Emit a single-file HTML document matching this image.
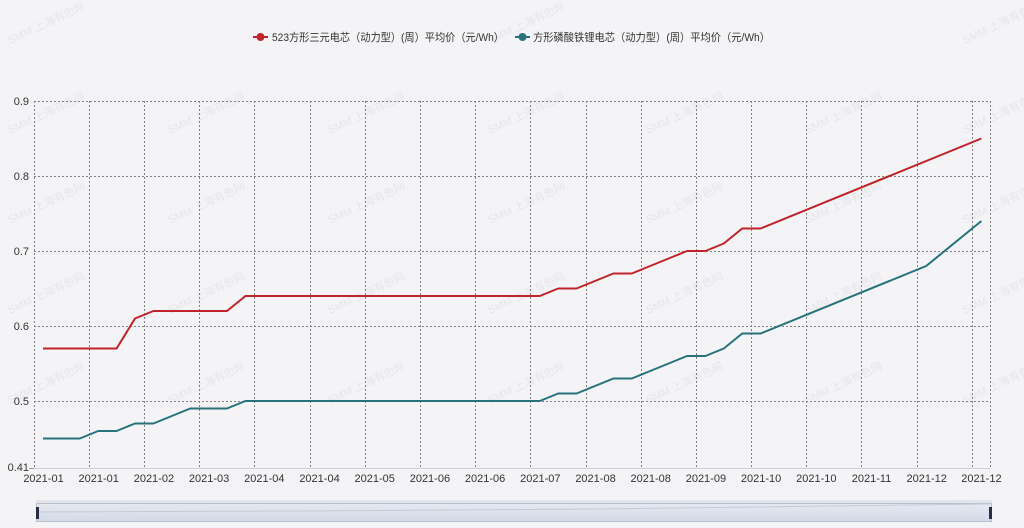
<!DOCTYPE html>
<html><head><meta charset="utf-8"><style>
html,body{margin:0;padding:0;background:#f4f4f6;}
svg{display:block;}
</style></head><body>
<svg width="1024" height="528" viewBox="0 0 1024 528" xmlns="http://www.w3.org/2000/svg">
<rect x="0" y="0" width="1024" height="528" fill="#f4f4f6"/>
<!-- watermarks -->
<g font-family="Liberation Sans, Noto Sans CJK SC, sans-serif" font-size="11" fill="#e6e6ea">
<text transform="translate(10,44) rotate(-25)">SMM 上海有色网</text>
<text transform="translate(490,44) rotate(-25)">SMM 上海有色网</text>
<text transform="translate(965,44) rotate(-25)">SMM 上海有色网</text>
<text transform="translate(10,134) rotate(-25)">SMM 上海有色网</text>
<text transform="translate(170,134) rotate(-25)">SMM 上海有色网</text>
<text transform="translate(330,134) rotate(-25)">SMM 上海有色网</text>
<text transform="translate(490,134) rotate(-25)">SMM 上海有色网</text>
<text transform="translate(648,134) rotate(-25)">SMM 上海有色网</text>
<text transform="translate(807,134) rotate(-25)">SMM 上海有色网</text>
<text transform="translate(965,134) rotate(-25)">SMM 上海有色网</text>
<text transform="translate(10,224) rotate(-25)">SMM 上海有色网</text>
<text transform="translate(170,224) rotate(-25)">SMM 上海有色网</text>
<text transform="translate(330,224) rotate(-25)">SMM 上海有色网</text>
<text transform="translate(490,224) rotate(-25)">SMM 上海有色网</text>
<text transform="translate(648,224) rotate(-25)">SMM 上海有色网</text>
<text transform="translate(807,224) rotate(-25)">SMM 上海有色网</text>
<text transform="translate(965,224) rotate(-25)">SMM 上海有色网</text>
<text transform="translate(10,314) rotate(-25)">SMM 上海有色网</text>
<text transform="translate(170,314) rotate(-25)">SMM 上海有色网</text>
<text transform="translate(330,314) rotate(-25)">SMM 上海有色网</text>
<text transform="translate(490,314) rotate(-25)">SMM 上海有色网</text>
<text transform="translate(648,314) rotate(-25)">SMM 上海有色网</text>
<text transform="translate(807,314) rotate(-25)">SMM 上海有色网</text>
<text transform="translate(965,314) rotate(-25)">SMM 上海有色网</text>
<text transform="translate(10,404) rotate(-25)">SMM 上海有色网</text>
<text transform="translate(170,404) rotate(-25)">SMM 上海有色网</text>
<text transform="translate(330,404) rotate(-25)">SMM 上海有色网</text>
<text transform="translate(490,404) rotate(-25)">SMM 上海有色网</text>
<text transform="translate(648,404) rotate(-25)">SMM 上海有色网</text>
<text transform="translate(807,404) rotate(-25)">SMM 上海有色网</text>
<text transform="translate(965,404) rotate(-25)">SMM 上海有色网</text>
</g>

<!-- legend -->
<g font-family="Liberation Sans, Noto Sans CJK SC, sans-serif" font-size="11" fill="#333">
<line x1="253" y1="37" x2="268" y2="37" stroke="#c1232b" stroke-width="2"/>
<circle cx="260.5" cy="37" r="4" fill="#c1232b"/>
<text x="272" y="41" textLength="232" lengthAdjust="spacingAndGlyphs">523方形三元电芯（动力型）(周）平均价（元/Wh）</text>
<line x1="515" y1="37" x2="530" y2="37" stroke="#27727b" stroke-width="2"/>
<circle cx="522.5" cy="37" r="4" fill="#27727b"/>
<text x="533" y="41" textLength="237" lengthAdjust="spacingAndGlyphs">方形磷酸铁锂电芯（动力型）(周）平均价（元/Wh）</text>
</g>

<!-- grid -->
<g stroke="#808080" stroke-width="1" stroke-dasharray="2,2" fill="none">
<line x1="34" y1="101.5" x2="990" y2="101.5"/>
<line x1="34" y1="176.5" x2="990" y2="176.5"/>
<line x1="34" y1="251.5" x2="990" y2="251.5"/>
<line x1="34" y1="326.5" x2="990" y2="326.5"/>
<line x1="34" y1="401.5" x2="990" y2="401.5"/>
<line x1="34.5" y1="101" x2="34.5" y2="468"/>
<line x1="89.5" y1="101" x2="89.5" y2="468"/>
<line x1="144.5" y1="101" x2="144.5" y2="468"/>
<line x1="199.5" y1="101" x2="199.5" y2="468"/>
<line x1="254.5" y1="101" x2="254.5" y2="468"/>
<line x1="310.5" y1="101" x2="310.5" y2="468"/>
<line x1="365.5" y1="101" x2="365.5" y2="468"/>
<line x1="420.5" y1="101" x2="420.5" y2="468"/>
<line x1="475.5" y1="101" x2="475.5" y2="468"/>
<line x1="530.5" y1="101" x2="530.5" y2="468"/>
<line x1="586.5" y1="101" x2="586.5" y2="468"/>
<line x1="641.5" y1="101" x2="641.5" y2="468"/>
<line x1="696.5" y1="101" x2="696.5" y2="468"/>
<line x1="751.5" y1="101" x2="751.5" y2="468"/>
<line x1="806.5" y1="101" x2="806.5" y2="468"/>
<line x1="861.5" y1="101" x2="861.5" y2="468"/>
<line x1="917.5" y1="101" x2="917.5" y2="468"/>
<line x1="972.5" y1="101" x2="972.5" y2="468"/>
<line x1="990.5" y1="101" x2="990.5" y2="468"/>
</g>
<line x1="34" y1="468.5" x2="990" y2="468.5" stroke="#cfcfd4" stroke-width="1"/>
<line x1="29" y1="468.5" x2="34" y2="468.5" stroke="#999" stroke-width="1"/>

<!-- y labels -->
<g font-family="Liberation Sans, sans-serif" font-size="11" fill="#333" text-anchor="end">
<text x="29" y="105">0.9</text>
<text x="29" y="180">0.8</text>
<text x="29" y="255">0.7</text>
<text x="29" y="330">0.6</text>
<text x="29" y="405">0.5</text>
<text x="29" y="471">0.41</text>
</g>

<!-- x labels -->
<g font-family="Liberation Sans, sans-serif" font-size="11" fill="#333" text-anchor="middle">
<text x="43.5" y="482">2021-01</text>
<text x="98.7" y="482">2021-01</text>
<text x="153.9" y="482">2021-02</text>
<text x="209.1" y="482">2021-03</text>
<text x="264.3" y="482">2021-04</text>
<text x="319.5" y="482">2021-04</text>
<text x="374.7" y="482">2021-05</text>
<text x="429.9" y="482">2021-06</text>
<text x="485.1" y="482">2021-06</text>
<text x="540.3" y="482">2021-07</text>
<text x="595.5" y="482">2021-08</text>
<text x="650.7" y="482">2021-08</text>
<text x="705.9" y="482">2021-09</text>
<text x="761.1" y="482">2021-10</text>
<text x="816.3" y="482">2021-10</text>
<text x="871.5" y="482">2021-11</text>
<text x="926.7" y="482">2021-12</text>
<text x="981.4" y="482">2021-12</text>
</g>

<!-- series -->
<polyline fill="none" stroke="#c1232b" stroke-width="2" stroke-linejoin="round"
points="43,348.5 61.4,348.5 79.8,348.5 98.2,348.5 116.6,348.5 135,318.5 153.4,311 171.8,311 190.2,311 208.6,311 227,311 245.4,296 539.8,296 558.2,288.5 576.6,288.5 595,281 613.4,273.5 631.8,273.5 650.2,266 668.6,258.5 687,251 705.4,251 723.8,243.5 742.2,228.5 760.6,228.5 981.4,138.5"/>
<polyline fill="none" stroke="#27727b" stroke-width="2" stroke-linejoin="round"
points="43,438.5 61.4,438.5 79.8,438.5 98.2,431 116.6,431 135,423.5 153.4,423.5 171.8,416 190.2,408.5 208.6,408.5 227,408.5 245.4,401 539.8,401 558.2,393.5 576.6,393.5 595,386 613.4,378.5 631.8,378.5 650.2,371 668.6,363.5 687,356 705.4,356 723.8,348.5 742.2,333.5 760.6,333.5 926.2,266 944.6,251 963,236 981.4,221"/>

<!-- data zoom slider -->
<defs>
<linearGradient id="sg" x1="0" y1="0" x2="0" y2="1">
<stop offset="0" stop-color="#e6e9f1"/>
<stop offset="1" stop-color="#d3d9e6"/>
</linearGradient>
</defs>
<rect x="36" y="500" width="956" height="4" fill="#e4e5ea"/>
<rect x="36.5" y="503.5" width="955" height="18" fill="url(#sg)" stroke="#b9bfcc" stroke-width="1"/>
<polyline fill="none" stroke="#c4cad8" stroke-width="1" points="38,512 300,511 600,509 990,504"/>
<rect x="36" y="507" width="3" height="12" fill="#2a2d45"/>
<rect x="989" y="507" width="3" height="12" fill="#2a2d45"/>
</svg>
</body></html>
